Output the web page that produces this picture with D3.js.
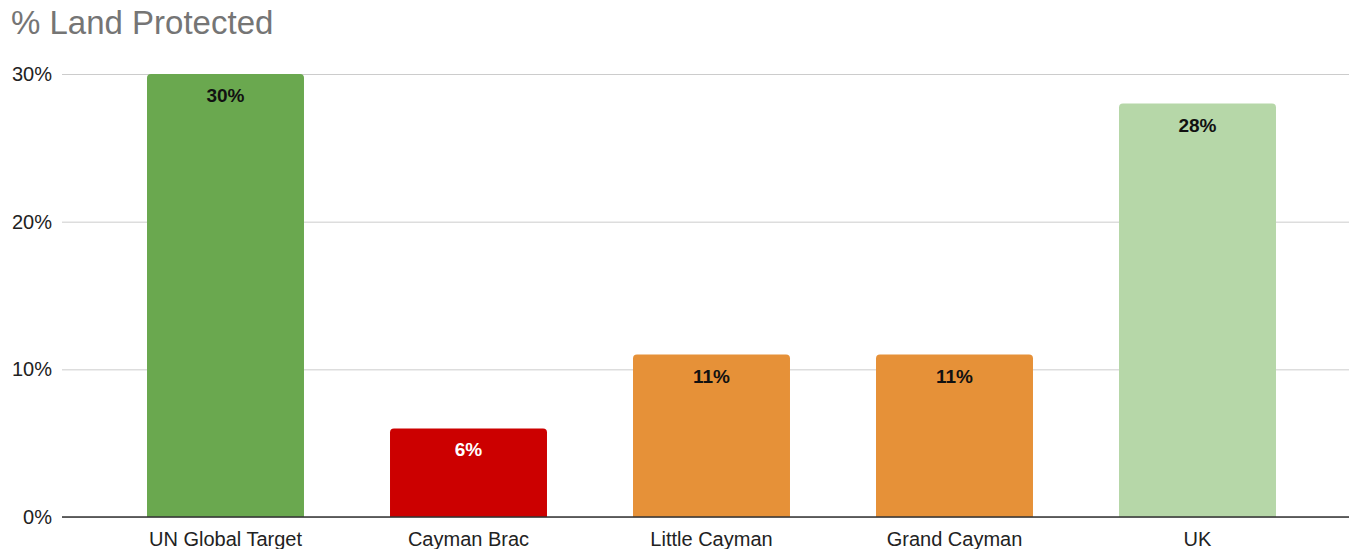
<!DOCTYPE html>
<html>
<head>
<meta charset="utf-8">
<script src="https://d3js.org/d3.v7.min.js"></script>
<style>
  body { margin: 0; background: #fff; font-family: Arial, 'Liberation Sans', sans-serif; }
  .grid line { stroke: #cccccc; }
  .grid path { stroke-width: 0; }
</style>
</head>
<body>
<div id="chart"></div>
<script>
// data
const categories = ["UN Global Target", "Cayman Brac", "Little Cayman", "Grand Cayman", "UK"];
const values = [30, 6, 11, 11, 28];
const barColors = ["#6aa84f", "#cc0000", "#e69138", "#e69138", "#b6d7a8"];
const labelColors = ["#111", "#fff", "#111", "#111", "#111"];
const yTicks = [0, 10, 20, 30];

const W = 1349, H = 549;
const svg = d3.select("#chart").append("svg")
    .attr("width", W).attr("height", H);

// title
svg.append("text")
    .attr("x", 11).attr("y", 34)
    .attr("fill", "#757575")
    .style("font-size", "33px")
    .text("% Land Protected");

const x = d3.scaleBand()
    .domain(categories)
    .range([104, 1319])
    .paddingInner(0.354)
    .paddingOuter(0.177);

const y = d3.scaleLinear()
    .domain([0, 30])
    .range([517, 74]);

// gridlines
svg.append("g")
    .attr("class", "grid")
    .attr("transform", "translate(62,0)")
    .call(d3.axisLeft(y).tickValues(yTicks).tickSize(-(W - 62)).tickFormat(""));

// y tick labels
svg.selectAll(".ylab")
    .data(yTicks)
    .join("text")
    .attr("x", 52)
    .attr("y", d => y(d) + 7)
    .attr("text-anchor", "end")
    .attr("fill", "#222")
    .style("font-size", "20px")
    .text(d => d + "%");

// bars with rounded top corners
const r = 4;
svg.selectAll(".bar")
    .data(values)
    .join("path")
    .attr("fill", (d, i) => barColors[i])
    .attr("d", (d, i) => {
        const x0 = x(categories[i]), w = x.bandwidth();
        const top = y(d), bot = y(0);
        return `M${x0},${bot}V${top + r}Q${x0},${top} ${x0 + r},${top}` +
               `H${x0 + w - r}Q${x0 + w},${top} ${x0 + w},${top + r}V${bot}Z`;
    });

// value labels
svg.selectAll(".val")
    .data(values)
    .join("text")
    .attr("x", (d, i) => x(categories[i]) + x.bandwidth() / 2)
    .attr("y", d => y(d) + 28)
    .attr("text-anchor", "middle")
    .attr("fill", (d, i) => labelColors[i])
    .style("font-size", "19px")
    .style("font-weight", "bold")
    .text(d => d + "%");

// baseline
svg.append("line")
    .attr("x1", 62).attr("x2", W)
    .attr("y1", y(0)).attr("y2", y(0))
    .attr("stroke", "#333").attr("stroke-width", 1.5);

// x labels
svg.selectAll(".xlab")
    .data(categories)
    .join("text")
    .attr("x", d => x(d) + x.bandwidth() / 2)
    .attr("y", 546)
    .attr("text-anchor", "middle")
    .attr("fill", "#222")
    .style("font-size", "20px")
    .text(d => d);
</script>
</body>
</html>
